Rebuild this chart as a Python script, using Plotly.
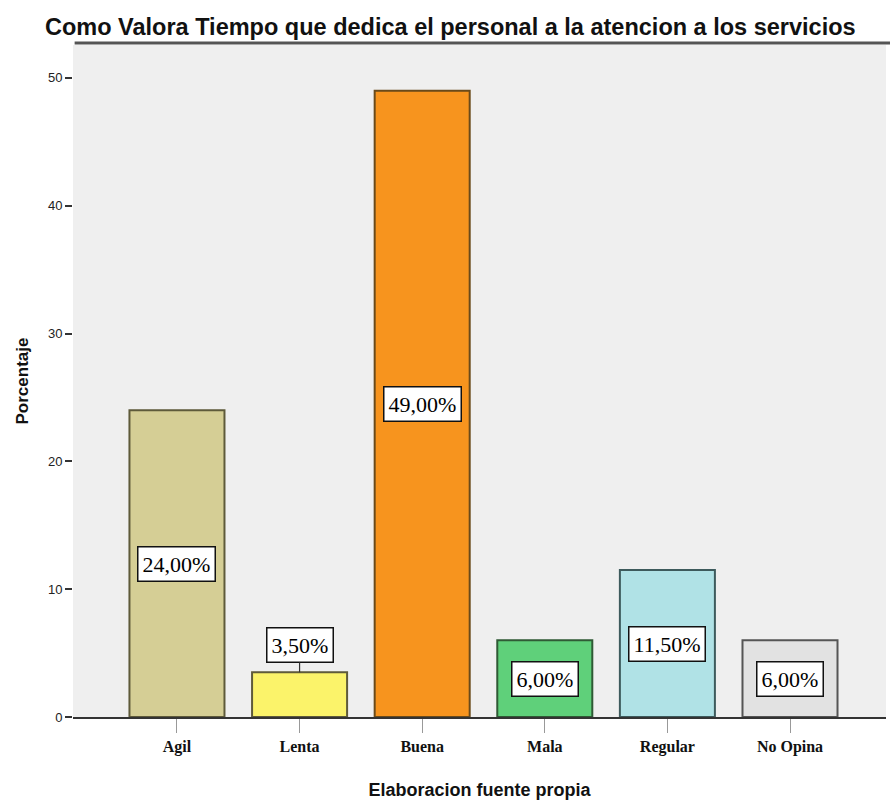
import plotly.graph_objects as go

# Survey result: perceived time staff devote to attending services
categorias = ["Agil", "Lenta", "Buena", "Mala", "Regular", "No Opina"]
porcentajes = [24.0, 3.5, 49.0, 6.0, 11.5, 6.0]
colores = ["#d5ce95", "#fbf36a", "#f7941e", "#5fd07a", "#b0e2e6", "#e2e2e2"]
bordes = ["#5e5a3a", "#5e5a3a", "#6a4a1a", "#2f5a35", "#3d5a5c", "#555555"]
y_ticks = [0, 10, 20, 30, 40, 50]

x_pos = list(range(len(categorias)))


def etiqueta(v):
    return f"{v:.2f}".replace(".", ",") + "%"


fig = go.Figure()
fig.add_trace(go.Bar(
    x=x_pos,
    y=porcentajes,
    width=0.775,
    marker=dict(color=colores, line=dict(color=bordes, width=2)),
    hoverinfo="skip",
))

# Value labels: centred in each bar, or above it with a leader when the bar is short
for i, v in enumerate(porcentajes):
    comun = dict(
        x=i, xref="x", yref="y",
        text=etiqueta(v),
        font=dict(family="Liberation Serif", size=22, color="#000000"),
        bgcolor="#ffffff", bordercolor="#111111", borderwidth=1.5, borderpad=4,
    )
    if v < 5:
        fig.add_annotation(**comun, y=v, showarrow=True, arrowhead=0,
                           arrowwidth=1.2, arrowcolor="#333333",
                           ax=0, ay=-27, standoff=0)
    else:
        fig.add_annotation(**comun, y=v / 2, showarrow=False)

# Heading rule above the plot area
fig.add_shape(type="line", xref="paper", yref="paper",
              x0=0.002, x1=1.01, y0=1.003, y1=1.003,
              line=dict(color="#555555", width=3))

fig.update_layout(
    width=890, height=801,
    margin=dict(l=73, r=4, t=45, b=82),
    paper_bgcolor="#ffffff",
    plot_bgcolor="#efefef",
    showlegend=False,
    title=dict(
        text="<b>Como Valora Tiempo que dedica el personal a la atencion a los servicios</b>",
        x=45 / 890, xanchor="left", xref="container",
        y=1 - 27 / 801, yanchor="middle", yref="container",
        font=dict(family="Liberation Sans", size=23.5, color="#111111"),
    ),
    xaxis=dict(
        range=[-0.848, 5.783],
        tickmode="array", tickvals=x_pos,
        ticktext=[f"<b>{c}</b>" for c in categorias],
        tickfont=dict(family="Liberation Serif", size=16, color="#111111"),
        ticks="outside", ticklen=14, tickcolor="#999999", tickwidth=1,
        showline=True, linecolor="#333333", linewidth=2,
        showgrid=False, zeroline=False,
        title=dict(text="<b>Elaboracion fuente propia</b>",
                   font=dict(family="Liberation Sans", size=18, color="#111111"),
                   standoff=28),
    ),
    yaxis=dict(
        range=[0, 52.57],
        tickmode="array", tickvals=y_ticks,
        tickfont=dict(family="Liberation Sans", size=13, color="#222222"),
        ticks="outside", ticklen=7, tickcolor="#333333", tickwidth=1.5,
        showline=False, showgrid=False, zeroline=False,
        title=dict(text="<b>Porcentaje</b>",
                   font=dict(family="Liberation Sans", size=17, color="#111111"),
                   standoff=14),
    ),
)

fig.write_html("out.html")
